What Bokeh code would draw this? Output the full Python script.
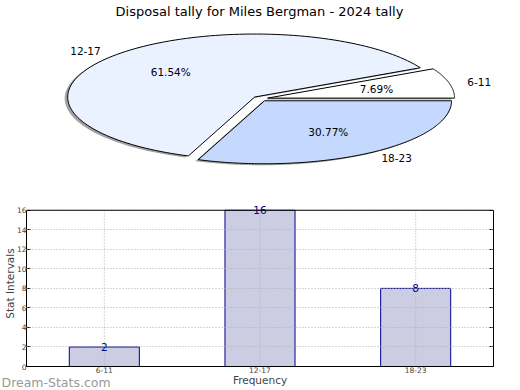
import numpy as np
from bokeh.plotting import figure
from bokeh.models import (Range1d, ColumnDataSource, FixedTicker, LinearAxis, Span, GridBox)
from bokeh.core.properties import value
from bokeh.embed import file_html
from bokeh.resources import INLINE

# ---------------- data ----------------
title_text = "Disposal tally for Miles Bergman - 2024 tally"
categories = ["6-11", "12-17", "18-23"]
counts = [2, 16, 8]
pie_colors = ["#ffffff", "#ebf2ff", "#c5d8fe"]
y_ticks = [0, 2, 4, 6, 8, 10, 12, 14, 16]
watermark = "Dream-Stats.com"

FONT = "DejaVu Sans"
W = 516
TOP_H = 198
BOT_H = 190


def no_align(fig):
    if "frame_align" in fig.properties():
        fig.frame_align = False


# ---------------- pie (top) ----------------
cx, cy = 259.8, 98.2      # ellipse centre (pixels of the top figure)
rx, ry = 187.0, 63.0      # ellipse semi-axes (pixels)
explode = 0.04

top = figure(width=W, height=TOP_H, x_range=Range1d(0, W), y_range=Range1d(TOP_H, 0),
             output_backend="svg", toolbar_location=None, min_border=0,
             x_axis_location=None, y_axis_location=None)
no_align(top)
top.grid.visible = False
top.outline_line_color = None

total = float(sum(counts))
fracs = [c / total for c in counts]
starts = np.cumsum([0.0] + fracs[:-1]) * 2 * np.pi
ends = np.cumsum(fracs) * 2 * np.pi

xs, ys, sxs, sys_ = [], [], [], []
left_lab, right_lab = dict(x=[], y=[], t=[]), dict(x=[], y=[], t=[])
pct_x, pct_y, pct_text = [], [], []
for cat, a0, a1, f in zip(categories, starts, ends, fracs):
    mid = 0.5 * (a0 + a1)
    ox = cx + explode * rx * np.cos(mid)
    oy = cy - explode * ry * np.sin(mid)
    t = np.linspace(a0, a1, 120)
    px = [ox] + list(ox + rx * np.cos(t)) + [ox]
    py = [oy] + list(oy - ry * np.sin(t)) + [oy]
    xs.append(px)
    ys.append(py)
    sxs.append([v - 3.0 for v in px])
    sys_.append([v + 1.5 for v in py])
    d = right_lab if np.cos(mid) >= 0 else left_lab
    d["x"].append(ox + 1.1 * rx * np.cos(mid))
    d["y"].append(oy - 1.1 * ry * np.sin(mid))
    d["t"].append(cat)
    pct_x.append(ox + 0.6 * rx * np.cos(mid))
    pct_y.append(oy - 0.6 * ry * np.sin(mid))
    pct_text.append("%.2f%%" % (100 * f))

top.patches(xs=sxs, ys=sys_, fill_color="#7a7a7a", fill_alpha=0.7, line_color=None)
top.patches(xs=xs, ys=ys, fill_color=pie_colors, line_color="black", line_width=1)
top.text(x=left_lab["x"], y=left_lab["y"], text=left_lab["t"], text_align="right",
         text_baseline="middle", text_font=value(FONT), text_font_size="10.5px", text_color="black")
top.text(x=right_lab["x"], y=right_lab["y"], text=right_lab["t"], text_align="left",
         text_baseline="middle", text_font=value(FONT), text_font_size="10.5px", text_color="black")
top.text(x=pct_x, y=pct_y, text=pct_text, text_align="center", text_baseline="middle",
         text_font=value(FONT), text_font_size="10.5px", text_color="black")
top.text(x=[259], y=[11], text=[title_text], text_align="center", text_baseline="middle",
         text_font=value(FONT), text_font_size="13px", text_color="black")

# ---------------- bars (bottom) ----------------
idx = list(range(len(categories)))
ymax = y_ticks[-1]
bot = figure(width=W, height=BOT_H, x_range=Range1d(-0.5, len(categories) - 0.5),
             y_range=Range1d(0, ymax + 1), output_backend="svg", toolbar_location=None,
             min_border_left=0, min_border_right=23, min_border_top=2, min_border_bottom=0)
no_align(bot)
bot.outline_line_color = None
bot.xgrid.visible = False
bot.ygrid.ticker = FixedTicker(ticks=y_ticks)
bot.ygrid.grid_line_color = "#b0b0b0"
bot.ygrid.grid_line_dash = "1 2"
bot.ygrid.level = "annotation"

src = ColumnDataSource(dict(x=idx, cnt=counts, lbl=[str(c) for c in counts]))
bot.vbar(x="x", top="cnt", width=0.45, source=src, fill_color="#ccccE2",
         line_color="#00008B", line_width=1)
bot.segment(x0=idx, y0=[0] * len(idx), x1=idx, y1=[ymax] * len(idx),
            line_color="#b0b0b0", line_dash="1 2", line_width=1)
bot.text(x="x", y="cnt", text="lbl", source=src, text_align="center", text_baseline="alphabetic",
         text_font=value(FONT), text_font_size="10.5px", text_color="#00008B")
bot.add_layout(Span(location=ymax, dimension="width", line_color="black", line_width=1))

xax = bot.xaxis[0]
yax = bot.yaxis[0]
xax.ticker = FixedTicker(ticks=idx)
xax.major_label_overrides = {i: c for i, c in zip(idx, categories)}
yax.ticker = FixedTicker(ticks=y_ticks)
yax.bounds = (0, ymax)
yax.axis_label = "Stat Intervals"
xax.axis_label = "Frequency"

right_ax = LinearAxis(ticker=FixedTicker(ticks=y_ticks), bounds=(0, ymax))
bot.add_layout(right_ax, "right")

for ax in (xax, yax, right_ax):
    ax.axis_label_text_font = FONT
    ax.axis_label_text_font_size = "10.5px"
    ax.axis_label_text_font_style = "normal"
    ax.axis_label_standoff = -2
    ax.major_label_text_font = FONT
    ax.major_label_text_font_size = "7.5px"
    ax.major_label_standoff = 0
    ax.major_tick_in = 4
    ax.major_tick_out = 0
    ax.minor_tick_in = 0
    ax.minor_tick_out = 0
    ax.axis_line_color = "black"
    ax.major_tick_line_color = "black"
xax.major_tick_in = 0
right_ax.major_label_text_font_size = "1px"
right_ax.major_label_text_color = None

# ---------------- watermark overlay (transparent, same cell as the bars) ----------------
wm = figure(width=W, height=BOT_H, x_range=Range1d(0, W), y_range=Range1d(BOT_H, 0),
            output_backend="svg", toolbar_location=None, min_border=0,
            x_axis_location=None, y_axis_location=None)
no_align(wm)
wm.grid.visible = False
wm.outline_line_color = None
wm.background_fill_color = None
wm.border_fill_color = None
wm.text(x=[1], y=[184], text=[watermark], text_align="left", text_baseline="alphabetic",
        text_font=value(FONT), text_font_size="12.5px", text_color="#999999")

p = GridBox(children=[(top, 0, 0), (bot, 1, 0), (wm, 1, 0)])
open("out.html", "w").write(file_html(p, INLINE))
